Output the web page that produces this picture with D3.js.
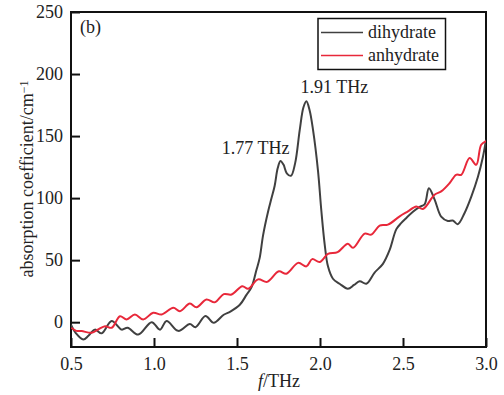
<!DOCTYPE html>
<html>
<head>
<meta charset="utf-8">
<script src="https://cdn.jsdelivr.net/npm/d3@7"></script>
<style>
  body { margin: 0; background: #fff; }
  svg text { font-family: "Liberation Serif", "Times New Roman", serif; fill: #222; }
</style>
</head>
<body>
<div id="chart"></div>
<script>
// frequency (THz) and absorption coefficient (cm^-1)
const freqDihydrate = [0.50, 0.53, 0.574, 0.605, 0.644, 0.685, 0.745, 0.805, 0.841, 0.905, 0.986, 1.036, 1.076, 1.146,
  1.216, 1.25, 1.31, 1.36, 1.42, 1.46, 1.517, 1.557, 1.587, 1.617, 1.637, 1.657, 1.687, 1.708, 1.727, 1.745,
  1.762, 1.78, 1.80, 1.825, 1.85, 1.878, 1.90, 1.918, 1.937, 1.958, 1.988, 2.008, 2.028, 2.048, 2.078, 2.118, 2.168,
  2.205, 2.239, 2.279, 2.329, 2.379, 2.419, 2.46, 2.49, 2.52, 2.56, 2.60, 2.63, 2.656, 2.69, 2.73, 2.77,
  2.80, 2.83, 2.871, 2.911, 2.951, 2.981, 3.0];
const absDihydrate = [-2, -9, -14, -11, -6, -9, 1, -6, -4.5, -10, 0, -6, 1, -7,
  -1.5, -4, 5, -0.5, 6, 8.5, 14, 22, 28, 42, 52, 70, 89, 100, 110, 124,
  130, 127, 120, 118, 128, 155, 173, 178, 171, 155, 122, 90, 63, 45, 35, 31, 27,
  30, 33, 31, 40, 47, 58, 75, 80, 84, 89, 93, 95, 108, 99, 85, 81.5,
  82, 79, 88, 101, 117, 133, 147];

const freqAnhydrate = [0.502, 0.532, 0.564, 0.625, 0.664, 0.705, 0.745, 0.795, 0.835, 0.885, 0.935, 0.995, 1.046,
  1.116, 1.156, 1.216, 1.256, 1.316, 1.366, 1.42, 1.467, 1.532, 1.567, 1.627, 1.682, 1.752, 1.797, 1.868,
  1.918, 1.953, 1.998, 2.048, 2.106, 2.168, 2.199, 2.269, 2.309, 2.359, 2.409, 2.48, 2.53, 2.58, 2.62,
  2.69, 2.73, 2.78, 2.82, 2.851, 2.901, 2.941, 2.971, 3.0];
const absAnhydrate = [-4.5, -7, -7.2, -8.5, -5.9, -3.2, -4.5, 4.8, 2.2, 6.2, 2.2, 7.6, 6.2,
  11.6, 8.9, 15, 12, 18.3, 16, 22.6, 22.3, 29, 26.9, 34.5, 32.5, 41, 39, 47.8,
  45, 50.8, 48.5, 55, 56.5, 63.3, 59.9, 71.4, 70.6, 77.8, 78.6, 85.3, 89.3, 93.3, 91.2,
  102.7, 105.4, 112, 118.8, 118.8, 132.3, 126.9, 143, 146];

const seriesNames = ['dihydrate', 'anhydrate'];
const seriesColors = ['#404040', '#e8283a'];
const xTicks = [0.5, 1.0, 1.5, 2.0, 2.5, 3.0];
const yTicks = [0, 50, 100, 150, 200, 250];
const peakLabels = ['1.77 THz', '1.91 THz'];

const width = 504, height = 395;
const margin = {top: 12, right: 18, bottom: 48, left: 71};

const svg = d3.select('#chart').append('svg')
  .attr('width', width)
  .attr('height', height);

const x = d3.scaleLinear().domain([0.5, 3.0]).range([margin.left, width - margin.right]);
const y = d3.scaleLinear().domain([-20, 250]).range([height - margin.bottom, margin.top]);

svg.append('clipPath').attr('id', 'plot-clip')
  .append('rect')
  .attr('x', x(0.5)).attr('y', y(250))
  .attr('width', x(3.0) - x(0.5)).attr('height', y(-20) - y(250));

// axes, ticks pointing inward
const xAxis = svg.append('g')
  .attr('transform', `translate(0,${y(-20)})`)
  .call(d3.axisBottom(x).tickValues(xTicks).tickFormat(d3.format('.1f'))
    .tickSize(-9).tickSizeOuter(0).tickPadding(10));

const yAxis = svg.append('g')
  .attr('transform', `translate(${x(0.5)},0)`)
  .call(d3.axisLeft(y).tickValues(yTicks).tickSize(-9).tickSizeOuter(0).tickPadding(8));

[xAxis, yAxis].forEach(g => {
  g.select('.domain').remove();
  g.selectAll('.tick line').attr('stroke', '#111').attr('stroke-width', 2);
  g.selectAll('.tick text')
    .style('font-family', '"Liberation Serif", serif')
    .style('font-size', '18px')
    .attr('fill', '#222');
});

// plot frame
svg.append('rect')
  .attr('x', x(0.5)).attr('y', y(250))
  .attr('width', x(3.0) - x(0.5)).attr('height', y(-20) - y(250))
  .attr('fill', 'none')
  .attr('stroke', '#111')
  .attr('stroke-width', 2);

const line = d3.line()
  .x(d => x(d[0]))
  .y(d => y(d[1]))
  .curve(d3.curveCatmullRom.alpha(0.5));

const series = [
  d3.zip(freqDihydrate, absDihydrate),
  d3.zip(freqAnhydrate, absAnhydrate)
];

svg.append('g').attr('clip-path', 'url(#plot-clip)')
  .selectAll('path')
  .data(series)
  .enter()
  .append('path')
    .attr('d', line)
    .attr('fill', 'none')
    .attr('stroke', (d, i) => seriesColors[i])
    .attr('stroke-width', 2)
    .attr('stroke-linejoin', 'round');

// panel tag and peak annotations
svg.append('text')
  .attr('x', 80).attr('y', 33)
  .style('font-size', '18px')
  .text('(b)');

svg.append('text')
  .attr('x', 289.5).attr('y', 154)
  .attr('text-anchor', 'end')
  .style('font-size', '18px')
  .text(peakLabels[0]);

svg.append('text')
  .attr('x', 300.5).attr('y', 93)
  .style('font-size', '18px')
  .text(peakLabels[1]);

// legend
const legend = svg.append('g');
legend.append('rect')
  .attr('x', 318).attr('y', 18.5)
  .attr('width', 127.5).attr('height', 51)
  .attr('fill', '#fff')
  .attr('stroke', '#111')
  .attr('stroke-width', 1.5);

seriesNames.forEach((name, i) => {
  const ly = 32.5 + i * 23;
  legend.append('line')
    .attr('x1', 321).attr('x2', 363)
    .attr('y1', ly).attr('y2', ly)
    .attr('stroke', seriesColors[i])
    .attr('stroke-width', 1.5);
  legend.append('text')
    .attr('x', 368).attr('y', ly + 5.5)
    .style('font-size', '18px')
    .text(name);
});

// axis titles
const xTitle = svg.append('text')
  .attr('x', 279).attr('y', 387)
  .attr('text-anchor', 'middle')
  .style('font-size', '18px');
xTitle.append('tspan').style('font-style', 'italic').text('f');
xTitle.append('tspan').text('/THz');

const yTitle = svg.append('text')
  .attr('transform', 'translate(33,179) rotate(-90)')
  .attr('text-anchor', 'middle')
  .style('font-size', '18px');
yTitle.append('tspan').text('absorption coefficient/cm');
yTitle.append('tspan')
  .attr('dy', '-0.45em')
  .style('font-size', '12px')
  .text('\u22121');
</script>
</body>
</html>
